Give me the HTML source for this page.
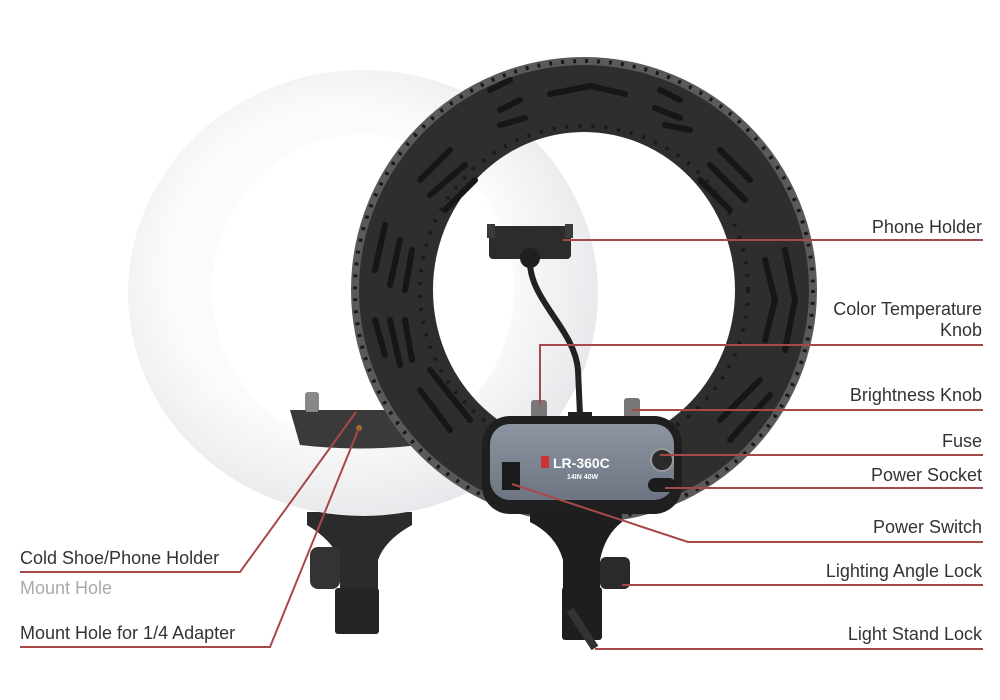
<!DOCTYPE html>
<html><head><meta charset="utf-8"><style>
html,body{margin:0;padding:0;background:#fff;width:1000px;height:700px;overflow:hidden}
svg{display:block}
text{font-family:"Liberation Sans",sans-serif;font-size:18px;fill:#333}
</style></head><body>
<svg width="1000" height="700" viewBox="0 0 1000 700" xmlns="http://www.w3.org/2000/svg">
<defs>
<radialGradient id="wr" cx="0.45" cy="0.45" r="0.6">
<stop offset="0.6" stop-color="#fbfbfc"/><stop offset="1" stop-color="#e4e5e8"/>
</radialGradient>
<linearGradient id="box" x1="0" y1="0" x2="0" y2="1"><stop offset="0" stop-color="#8d95a3"/><stop offset="1" stop-color="#6d7482"/></linearGradient>
</defs>
<!-- left white ring bracket -->
<path d="M307 512 L412 512 L412 525 Q385 540 378 560 L378 590 L340 590 L340 560 Q332 540 307 525 Z" fill="#2b2b2b"/>
<rect x="335" y="588" width="44" height="46" rx="3" fill="#252525"/>
<rect x="310" y="547" width="30" height="42" rx="8" fill="#333"/>
<!-- white ring -->
<path fill-rule="evenodd" fill="url(#wr)" d="M128 293 A235 223 0 1 0 598 293 A235 223 0 1 0 128 293 Z M212 290 A151 156 0 1 0 514 290 A151 156 0 1 0 212 290 Z"/>
<path d="M290 410 L420 410 L420 445 Q360 452 300 445 Z" fill="#3a3a3a"/>
<rect x="305" y="392" width="14" height="20" rx="3" fill="#888"/>
<circle cx="359" cy="428" r="3" fill="#a07030"/>
<!-- dark ring -->
<path fill-rule="evenodd" fill="#5a5a5a" d="M351 290 A233 233 0 1 0 817 290 A233 233 0 1 0 351 290 Z M427 290 A157 164 0 1 0 741 290 A157 164 0 1 0 427 290 Z"/>
<path fill-rule="evenodd" fill="#2e2e2e" d="M359 290 A225 225 0 1 0 809 290 A225 225 0 1 0 359 290 Z M433 290 A151 158 0 1 0 735 290 A151 158 0 1 0 433 290 Z"/>
<g fill="none" stroke="#161616" stroke-width="6" stroke-linecap="round">
<path d="M550 94 L590 86 L625 94"/>
<path d="M490 90 L510 80 M500 110 L520 100 M500 125 L525 118"/>
<path d="M660 90 L680 100 M655 108 L680 118 M665 125 L690 130"/>
<path d="M375 270 L385 225 M390 285 L400 240 M405 290 L412 250"/>
<path d="M375 320 L385 355 M390 320 L400 365 M405 320 L412 360"/>
<path d="M765 260 L775 300 L765 340 M785 250 L795 300 L785 350"/>
<path d="M420 180 L450 150 M430 195 L465 165 M445 210 L475 180"/>
<path d="M720 150 L750 180 M710 165 L745 200 M700 180 L730 210"/>
<path d="M420 390 L450 430 M430 370 L470 420 M720 420 L760 380 M730 440 L770 395"/>
</g>
<circle cx="584" cy="290" r="229" fill="none" stroke="#1a1a1a" stroke-width="4" stroke-dasharray="3 9"/>
<circle cx="584" cy="290" r="164" fill="none" stroke="#1a1a1a" stroke-width="4" stroke-dasharray="3 10"/>
<!-- phone holder -->
<rect x="489" y="226" width="82" height="33" rx="4" fill="#2c2c2c"/>
<rect x="487" y="224" width="8" height="14" fill="#3a3a3a"/><rect x="565" y="224" width="8" height="14" fill="#3a3a3a"/>
<circle cx="530" cy="258" r="10" fill="#1f1f1f"/>
<path d="M530 262 C530 300 575 330 578 370 L580 415" stroke="#222" stroke-width="6" fill="none"/>
<rect x="531" y="400" width="16" height="22" rx="3" fill="#777"/>
<rect x="624" y="398" width="16" height="22" rx="3" fill="#777"/>
<rect x="568" y="412" width="24" height="10" fill="#222"/>
<!-- control box -->
<rect x="482" y="416" width="200" height="98" rx="28" fill="#1f1f1f"/>
<rect x="490" y="424" width="184" height="76" rx="20" fill="url(#box)"/>
<rect x="502" y="462" width="18" height="28" fill="#1a1a1a"/>
<rect x="541" y="456" width="8" height="12" fill="#c33"/>
<text x="553" y="468" style="font-size:14px;font-weight:bold;fill:#fff">LR-360C</text>
<text x="567" y="479" style="font-size:7px;font-weight:bold;fill:#fff">14IN 40W</text>
<circle cx="662" cy="460" r="11" fill="#2a2a2a" stroke="#999" stroke-width="2"/>
<rect x="648" y="478" width="28" height="14" rx="7" fill="#1c1c1c"/>
<!-- bracket -->
<path d="M530 510 L622 510 L622 522 Q605 535 600 560 L600 590 L563 590 L563 560 Q556 535 530 522 Z" fill="#1e1e1e"/>
<rect x="562" y="587" width="40" height="53" rx="3" fill="#1e1e1e"/>
<rect x="600" y="557" width="30" height="32" rx="6" fill="#2a2a2a"/>
<path d="M570 610 L595 648" stroke="#333" stroke-width="8"/>
<!-- connector lines -->
<g stroke="#a84848" stroke-width="2" fill="none">
<path d="M563 240 L983 240"/>
<path d="M540 405 L540 345 L983 345"/>
<path d="M632 410 L983 410"/>
<path d="M660 455 L983 455"/>
<path d="M665 488 L983 488"/>
<path d="M512 484 L688 542 L983 542"/>
<path d="M622 585 L983 585"/>
<path d="M595 649 L983 649"/>
<path d="M356 412 L240 572 L20 572"/>
<path d="M359 428 L270 647 L20 647"/>
</g>
<!-- labels -->
<g text-anchor="end">
<text x="982" y="233">Phone Holder</text>
<text x="982" y="315">Color Temperature</text>
<text x="982" y="336">Knob</text>
<text x="982" y="401">Brightness Knob</text>
<text x="982" y="447">Fuse</text>
<text x="982" y="481">Power Socket</text>
<text x="982" y="533">Power Switch</text>
<text x="982" y="577">Lighting Angle Lock</text>
<text x="982" y="640">Light Stand Lock</text>
</g>
<text x="20" y="564">Cold Shoe/Phone Holder</text>
<text x="20" y="594" style="fill:#aaa">Mount Hole</text>
<text x="20" y="639">Mount Hole for 1/4 Adapter</text>
</svg>
</body></html>
